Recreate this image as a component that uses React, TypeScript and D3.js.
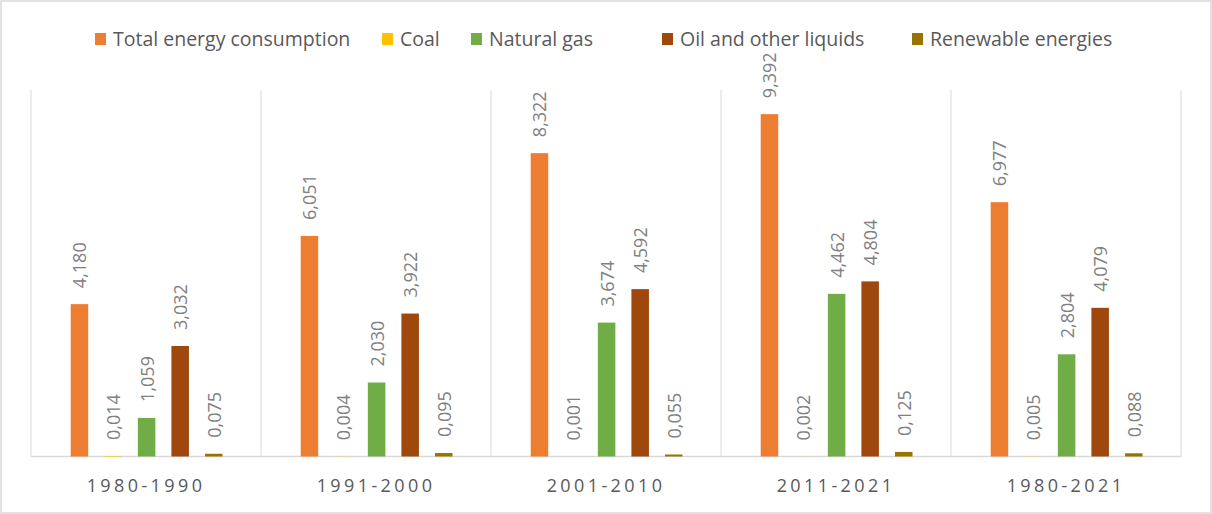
import React, { useEffect } from 'react';
import * as d3 from 'd3';

const periods = ['1980-1990', '1991-2000', '2001-2010', '2011-2021', '1980-2021'];
const seriesNames = ['Total energy consumption', 'Coal', 'Natural gas', 'Oil and other liquids', 'Renewable energies'];
const seriesColors = ['#ED7D31', '#FFC000', '#70AD47', '#9E480E', '#997300'];

const totalEnergy = [4.180, 6.051, 8.322, 9.392, 6.977];
const coal = [0.014, 0.004, 0.001, 0.002, 0.005];
const naturalGas = [1.059, 2.030, 3.674, 4.462, 2.804];
const oilLiquids = [3.032, 3.922, 4.592, 4.804, 4.079];
const renewables = [0.075, 0.095, 0.055, 0.125, 0.088];

const seriesValues = [totalEnergy, coal, naturalGas, oilLiquids, renewables];

// legend item x positions (square left edges)
const legendX = [95, 382, 471, 662, 912];

const fmt = (v: number) => v.toFixed(3).replace('.', ',');

export default function App() {
  useEffect(() => {
    document.body.style.margin = '0';
  }, []);

  const width = 1212;
  const height = 514;
  const left = 31;
  const right = 1181;
  const top = 92;
  const bottom = 456.5;

  const x0 = d3.scaleBand<string>().domain(periods).range([left, right]).paddingInner(0).paddingOuter(0);
  const x1 = d3.scaleBand<string>().domain(seriesNames).range([39.7, 191.5]).paddingInner(0.478).paddingOuter(0);
  const y = d3.scaleLinear().domain([0, 10]).range([bottom, top]);

  const font = 'Open Sans, sans-serif';

  return (
    <svg width={width} height={height} style={{ display: 'block', background: '#fff' }}>
      <rect x={1} y={1} width={width - 2} height={height - 2} fill="none" stroke="#d9d9d9" strokeWidth={1.5} />

      {/* category separators */}
      {[...periods.map(p => x0(p)!), right].map((xv, i) => (
        <line key={i} x1={xv} x2={xv} y1={top - 2} y2={bottom} stroke="#d9d9d9" strokeWidth={1} />
      ))}
      <line x1={left} x2={right} y1={bottom} y2={bottom} stroke="#d9d9d9" strokeWidth={1.5} />

      {periods.map((p, pi) => (
        <g key={p} transform={`translate(${x0(p)},0)`}>
          {seriesNames.map((s, si) => {
            const v = seriesValues[si][pi];
            const bx = x1(s)!;
            const bw = x1.bandwidth();
            const cx = bx + bw / 2;
            const ty = y(v);
            return (
              <g key={s}>
                <rect x={bx} y={ty} width={bw} height={bottom - ty} fill={seriesColors[si]} />
                <text
                  transform={`translate(${cx},${ty - 16}) rotate(-90)`}
                  textAnchor="start"
                  dominantBaseline="central"
                  fontFamily={font}
                  fontSize={18}
                  fill="#808080"
                >
                  {fmt(v)}
                </text>
              </g>
            );
          })}
          <text
            x={x0.bandwidth() / 2}
            y={492}
            textAnchor="middle"
            fontFamily={font}
            fontSize={18}
            letterSpacing={3.4}
            fill="#595959"
          >
            {p}
          </text>
        </g>
      ))}

      {/* legend */}
      {seriesNames.map((s, i) => (
        <g key={s} transform={`translate(${legendX[i]},0)`}>
          <rect x={0} y={33} width={11} height={12} fill={seriesColors[i]} />
          <text x={18} y={46} fontFamily={font} fontSize={19.5} fill="#595959">
            {s}
          </text>
        </g>
      ))}
    </svg>
  );
}
